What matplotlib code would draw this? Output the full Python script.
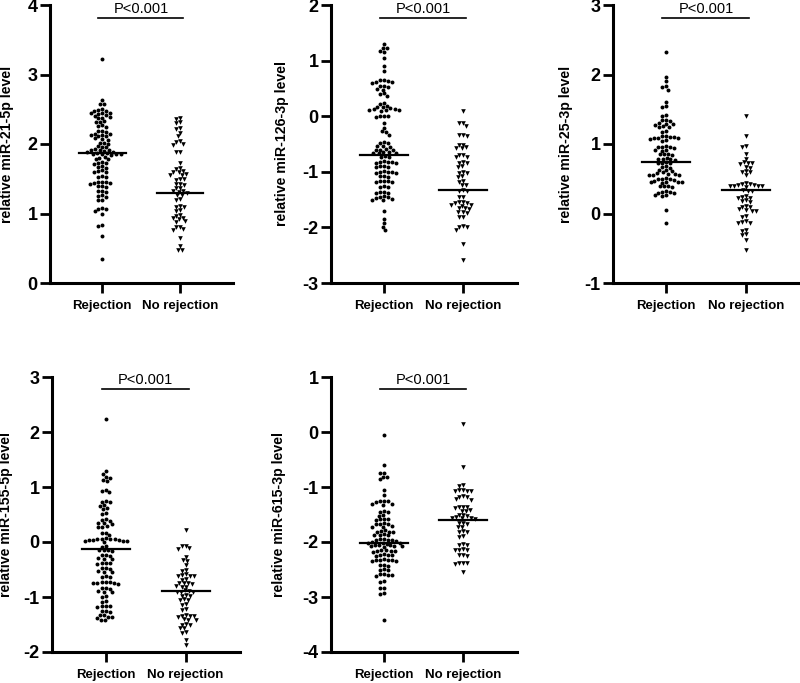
import numpy as np
import matplotlib
matplotlib.use("Agg")
import matplotlib.pyplot as plt

plt.rcParams['font.family'] = ['Liberation Sans', 'DejaVu Sans']

categories = ["Rejection", "No rejection"]
ylabels = ["relative miR-21-5p level", "relative miR-126-3p level",
           "relative miR-25-3p level", "relative miR-155-5p level",
           "relative miR-615-3p level"]
ylims = [(0, 4), (-3, 2), (-1, 3), (-2, 3), (-4, 1)]
p_text = "P<0.001"

# ---- miR-21-5p ----
mir21_rej = [3.23, 2.63, 2.58, 2.57, 2.49, 2.48, 2.50, 2.47, 2.44, 2.43, 2.45, 2.42, 2.44,
             2.39, 2.38, 2.40, 2.37, 2.32, 2.31, 2.33, 2.26, 2.25, 2.27, 2.18, 2.19, 2.17,
             2.13, 2.12, 2.14, 2.13, 2.11, 2.15, 2.07, 2.06, 2.08, 2.01, 2.02, 2.00,
             1.96, 1.95, 1.97, 1.91, 1.90, 1.92, 1.91, 1.89, 1.93,
             1.86, 1.85, 1.87, 1.86, 1.84, 1.88, 1.85, 1.87, 1.80, 1.79, 1.81, 1.78,
             1.73, 1.72, 1.74, 1.71, 1.68, 1.67, 1.66, 1.60, 1.61, 1.59, 1.62,
             1.53, 1.52, 1.54, 1.45, 1.44, 1.46, 1.43, 1.45, 1.44, 1.39, 1.38, 1.40,
             1.32, 1.31, 1.33, 1.25, 1.24, 1.26, 1.20, 1.19, 1.08, 1.07, 1.06,
             1.04, 0.99, 0.83, 0.82, 0.67, 0.34]
mir21_norej = [2.37, 2.36, 2.31, 2.30, 2.23, 2.22, 2.16, 2.11, 2.04, 2.03, 2.00, 1.99,
               1.89, 1.88, 1.72, 1.65, 1.64, 1.60, 1.59, 1.61, 1.56, 1.55, 1.57,
               1.49, 1.48, 1.50, 1.42, 1.41, 1.43, 1.37, 1.36, 1.32, 1.31, 1.30, 1.33,
               1.27, 1.26, 1.21, 1.20, 1.10, 1.09, 1.11, 1.05, 1.04, 0.98, 0.97,
               0.93, 0.92, 0.94, 0.89, 0.88, 0.81, 0.80, 0.77, 0.76, 0.65, 0.53, 0.48, 0.47]

# ---- miR-126-3p ----
mir126_rej = [1.30, 1.23, 1.22, 1.17, 1.16, 1.05, 0.90, 0.81, 0.66, 0.65, 0.64,
              0.61, 0.60, 0.62, 0.54, 0.53, 0.55, 0.49, 0.48, 0.41, 0.40, 0.36,
              0.23, 0.22, 0.17, 0.16, 0.18, 0.13, 0.12, 0.14, 0.11, 0.13, 0.12, 0.09,
              0.00, -0.01, 0.01, 0.00, -0.12, -0.21, -0.28, -0.27, -0.33,
              -0.48, -0.47, -0.49, -0.54, -0.53, -0.55, -0.60, -0.59, -0.61, -0.60,
              -0.66, -0.65, -0.67, -0.66, -0.64, -0.73, -0.72, -0.74,
              -0.83, -0.82, -0.84, -0.83, -0.81, -0.85, -0.90, -0.89, -0.91, -0.92,
              -1.01, -1.00, -1.02, -1.01, -0.99, -1.03, -1.08, -1.07, -1.09,
              -1.17, -1.16, -1.18, -1.17, -1.19, -1.27, -1.26, -1.28,
              -1.37, -1.36, -1.38, -1.39, -1.45, -1.44, -1.46, -1.49, -1.50, -1.48, -1.51,
              -1.70, -1.84, -1.92, -1.99, -2.05]
mir126_norej = [0.09, -0.12, -0.13, -0.17, -0.33, -0.34, -0.36, -0.51, -0.52,
                -0.57, -0.56, -0.58, -0.69, -0.70, -0.73, -0.74, -0.84, -0.83, -0.85,
                -0.90, -0.91, -1.02, -1.01, -1.03, -1.08, -1.09, -1.17, -1.18,
                -1.23, -1.24, -1.34, -1.33, -1.35, -1.45, -1.46,
                -1.55, -1.54, -1.56, -1.57, -1.60, -1.61, -1.59, -1.66, -1.65, -1.67,
                -1.73, -1.72, -1.74, -1.81, -1.82, -1.99, -1.98, -2.00, -2.04, -2.29, -2.58]

# ---- miR-25-3p ----
mir25_rej = [2.32, 1.96, 1.90, 1.82, 1.83, 1.78, 1.61, 1.54, 1.53, 1.42, 1.41,
             1.34, 1.33, 1.35, 1.29, 1.28, 1.30, 1.29, 1.25, 1.24, 1.26, 1.18, 1.17,
             1.10, 1.09, 1.11, 1.10, 1.08, 1.12, 1.09, 1.06, 1.05, 1.07,
             0.96, 0.95, 0.97, 0.96, 0.94, 0.91, 0.90, 0.92, 0.85, 0.84, 0.86, 0.85,
             0.79, 0.78, 0.80, 0.79, 0.77, 0.73, 0.72, 0.74, 0.73, 0.67, 0.66, 0.68,
             0.62, 0.61, 0.63, 0.57, 0.56, 0.58, 0.57, 0.55, 0.59, 0.56,
             0.50, 0.49, 0.51, 0.50, 0.46, 0.45, 0.47, 0.46, 0.44, 0.48, 0.45,
             0.39, 0.38, 0.40, 0.39, 0.31, 0.30, 0.32, 0.31, 0.29, 0.26, 0.25, 0.27,
             0.05, -0.14]
mir25_norej = [1.40, 1.11, 0.97, 0.96, 0.85, 0.79, 0.73, 0.72, 0.74, 0.71, 0.67, 0.66,
               0.60, 0.59, 0.61, 0.55, 0.44, 0.43,
               0.40, 0.39, 0.41, 0.40, 0.38, 0.42, 0.39, 0.41, 0.33, 0.32, 0.34,
               0.24, 0.23, 0.25, 0.22, 0.18, 0.17, 0.19, 0.10, 0.09, 0.11,
               0.05, 0.04, 0.06, 0.03, -0.04, -0.05, -0.12, -0.13, -0.11, -0.14,
               -0.24, -0.25, -0.30, -0.31, -0.38, -0.53]

# ---- miR-155-5p ----
mir155_rej = [2.23, 1.29, 1.24, 1.18, 1.17, 1.12, 1.11, 0.94, 0.93, 0.91,
              0.73, 0.72, 0.74, 0.67, 0.66, 0.61, 0.60, 0.52, 0.51,
              0.40, 0.39, 0.41, 0.34, 0.33, 0.35, 0.28, 0.27, 0.29, 0.17, 0.16, 0.13,
              0.05, 0.04, 0.06, 0.05, 0.03, 0.07, 0.04, 0.06, 0.01, 0.00, 0.02, 0.01,
              -0.08, -0.09, -0.15, -0.14, -0.16, -0.15, -0.24, -0.23, -0.25,
              -0.30, -0.31, -0.29, -0.39, -0.38, -0.40, -0.39, -0.48, -0.47, -0.49,
              -0.54, -0.55, -0.53, -0.63, -0.62, -0.64,
              -0.74, -0.73, -0.75, -0.74, -0.72, -0.76, -0.73, -0.84, -0.83, -0.85,
              -0.90, -0.91, -0.89, -0.99, -1.00, -1.08, -1.09,
              -1.17, -1.16, -1.18, -1.17, -1.26, -1.25, -1.27, -1.32, -1.33,
              -1.37, -1.36, -1.38, -1.41, -1.42]
mir155_norej = [0.21, -0.08, -0.07, -0.11, -0.12, -0.27, -0.33, -0.34, -0.42, -0.51, -0.52,
                -0.61, -0.60, -0.62, -0.61, -0.59, -0.68, -0.69, -0.75, -0.74, -0.76, -0.75,
                -0.81, -0.80, -0.82, -0.90, -0.89, -0.91, -0.90, -0.88, -0.98, -0.97, -0.99,
                -1.05, -1.04, -1.06, -1.14, -1.13, -1.23, -1.22,
                -1.35, -1.34, -1.36, -1.35, -1.33, -1.41, -1.40, -1.42,
                -1.50, -1.49, -1.51, -1.56, -1.57, -1.64, -1.65, -1.79, -1.87]

# ---- miR-615-3p ----
mir615_rej = [-0.06, -0.60, -0.74, -0.75, -0.82, -0.81, -0.86, -1.06, -1.15,
              -1.26, -1.25, -1.27, -1.26, -1.31, -1.32, -1.30, -1.45, -1.44, -1.46,
              -1.51, -1.52, -1.59, -1.58, -1.60, -1.59, -1.67, -1.66, -1.68, -1.67,
              -1.72, -1.71, -1.73, -1.81, -1.80, -1.82, -1.81, -1.79,
              -1.87, -1.86, -1.88, -1.87, -1.96, -1.95, -1.97, -1.96, -1.94,
              -2.01, -2.00, -2.02, -2.01, -1.99, -2.03,
              -2.07, -2.06, -2.08, -2.07, -2.05, -2.09, -2.06,
              -2.16, -2.15, -2.17, -2.16, -2.14, -2.18, -2.24, -2.23, -2.25, -2.24, -2.22,
              -2.33, -2.32, -2.34, -2.33, -2.31, -2.35, -2.32, -2.42, -2.41, -2.43,
              -2.50, -2.49, -2.51, -2.60, -2.59, -2.61, -2.60, -2.58,
              -2.72, -2.71, -2.84, -2.83, -2.94, -2.93, -3.41]
mir615_norej = [0.14, -0.63, -0.98, -0.97, -1.07, -1.06, -1.08, -1.07, -1.05,
                -1.18, -1.17, -1.19, -1.22, -1.23, -1.37, -1.36, -1.38, -1.37,
                -1.43, -1.42, -1.44, -1.51, -1.50, -1.52, -1.57, -1.56, -1.58, -1.57, -1.55,
                -1.66, -1.65, -1.67, -1.72, -1.73, -1.81, -1.80, -1.82, -1.89, -1.90,
                -2.05, -2.04, -2.06, -2.14, -2.13, -2.15, -2.14, -2.24, -2.23, -2.25,
                -2.39, -2.38, -2.40, -2.39, -2.54]

# group means (horizontal lines)
mean_rej = [1.87, -0.69, 0.74, -0.13, -2.01]
mean_norej = [1.30, -1.32, 0.34, -0.89, -1.60]

rej_data = [mir21_rej, mir126_rej, mir25_rej, mir155_rej, mir615_rej]
norej_data = [mir21_norej, mir126_norej, mir25_norej, mir155_norej, mir615_norej]

W, H = 800, 683
fig = plt.figure(figsize=(W / 100, H / 100), dpi=100)

# axes boxes in pixels: (left, right, top, bottom)
boxes = [(50, 233, 5, 283), (331, 517, 5, 283), (613, 800, 5, 283),
         (52, 240, 377, 652), (331, 517, 377, 652)]
label_off = [36, 42, 40, 39, 45]
XL = (-0.67, 1.68)


def swarm(vals, ppu, d):
    vals = np.asarray(vals, float)
    ys = vals * ppu
    xs = np.zeros(len(vals))
    placed = []
    for i in np.argsort(-vals, kind="stable"):
        y = ys[i]
        near = [(px, py) for px, py in placed if abs(py - y) < d]
        cands = [0.0]
        for px, py in near:
            dx = np.sqrt(d * d - (py - y) ** 2)
            cands += [px + dx, px - dx]
        cands.sort(key=lambda c: (round(abs(c), 6), c))
        for c in cands:
            if all((c - px) ** 2 + (y - py) ** 2 >= d * d - 1e-6 for px, py in near):
                xs[i] = c
                break
        placed.append((xs[i], y))
    return xs


for k in range(5):
    l, r, t, b = boxes[k]
    ax = fig.add_axes([l / W, 1 - b / H, (r - l) / W, (b - t) / H])
    ax.set_xlim(*XL)
    ax.set_ylim(*ylims[k])
    wpx, hpx = r - l, b - t
    xppu = wpx / (XL[1] - XL[0])
    yppu = hpx / (ylims[k][1] - ylims[k][0])
    for j, (vals, mk, ms) in enumerate([(rej_data[k], 'o', 8), (norej_data[k], 'v', 11)]):
        off = swarm(vals, yppu, 4.1) / xppu
        ax.scatter(j + off, vals, s=ms, marker=mk, color='black', linewidths=0, zorder=3,
                   clip_on=False)
    for j, m in enumerate([mean_rej[k], mean_norej[k]]):
        ax.plot([j - 0.3, j + 0.3], [m, m], color='black', lw=1.6, zorder=4)
    # significance bracket
    y0, y1 = ylims[k]
    yb = y0 + 0.955 * (y1 - y0)
    ax.plot([-0.05, 1.04], [yb, yb], color='black', lw=1.2, clip_on=False)
    ax.text(0.5, yb + 0.007 * (y1 - y0), p_text, ha='center', va='bottom', fontsize=10.5)

    for s in ['top', 'right']:
        ax.spines[s].set_visible(False)
    for s in ['left', 'bottom']:
        ax.spines[s].set_linewidth(2.2)
    ax.set_yticks(np.arange(y0, y1 + 0.5, 1))
    ax.set_yticklabels([str(int(v)) for v in np.arange(y0, y1 + 0.5, 1)],
                       fontsize=13, fontweight='bold')
    ax.set_xticks([0, 1])
    ax.set_xticklabels(categories, fontsize=9.5, fontweight='bold')
    ax.tick_params(axis='y', length=7, width=2, pad=2)
    ax.tick_params(axis='x', length=7, width=2, pad=5)
    ax.set_ylabel(ylabels[k], fontsize=10.2, fontweight='bold')
    ax.yaxis.set_label_coords(-label_off[k] / wpx, 0.5)

fig.savefig("out.png", dpi=100)
